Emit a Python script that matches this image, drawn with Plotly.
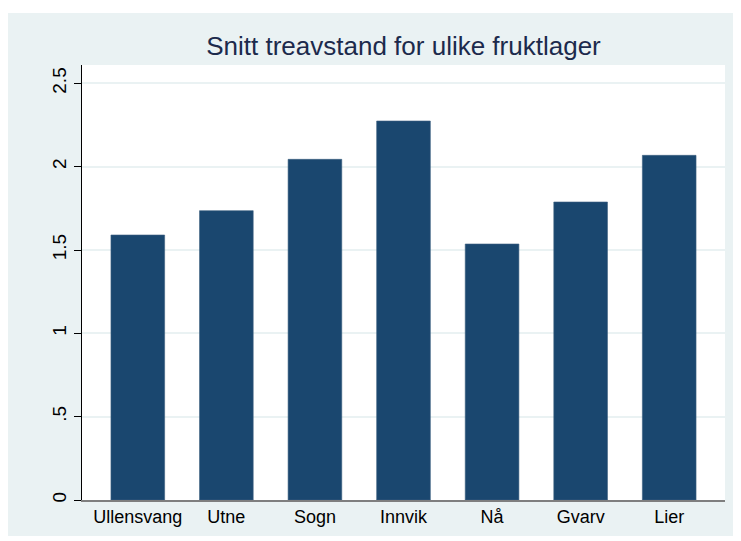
import plotly.graph_objects as go

categories = ["Ullensvang", "Utne", "Sogn", "Innvik", "Nå", "Gvarv", "Lier"]
values = [1.590, 1.736, 2.044, 2.274, 1.536, 1.788, 2.068]
ytick_vals = [0, 0.5, 1, 1.5, 2, 2.5]
ytick_text = ["0", ".5", "1", "1.5", "2", "2.5"]
title_text = "Snitt treavstand for ulike fruktlager"

W, H = 741, 541
L, R, T, B = 74, 24, 57, 49
pw, ph = W - L - R, H - T - B
BG = "#EAF2F3"

def px_to_paper_x(px):
    return (px - L) / pw

def px_to_paper_y(py):
    return (H - B - py) / ph

fig = go.Figure()
fig.add_trace(go.Bar(
    x=categories, y=values, width=0.606,
    marker=dict(color="#1a476f", line=dict(color="#3d5f80", width=0.6)),
))

fig.update_layout(
    width=W, height=H,
    margin=dict(l=L, r=R, t=T, b=B, pad=0),
    paper_bgcolor=BG, plot_bgcolor="white",
    showlegend=False,
    font=dict(family="Liberation Sans, Arial, sans-serif", color="black"),
    title=dict(text=title_text, x=0.5, xref="paper", xanchor="center",
               y=1 - 38 / H, yref="container", yanchor="middle",
               font=dict(size=26, color="#1c2a4c")),
    shapes=[
        dict(type="rect", xref="paper", yref="paper", layer="above",
             x0=px_to_paper_x(-20), x1=px_to_paper_x(760),
             y0=px_to_paper_y(5), y1=px_to_paper_y(-20),
             fillcolor="white", line=dict(width=0)),
        dict(type="rect", xref="paper", yref="paper", layer="above",
             x0=px_to_paper_x(-20), x1=px_to_paper_x(760),
             y0=px_to_paper_y(600), y1=px_to_paper_y(528),
             fillcolor="white", line=dict(width=0)),
    ],
)

fig.update_xaxes(
    type="category", range=[-0.63, 6.63],
    showline=True, linecolor="#7f7f7f", linewidth=1.5,
    ticks="", showgrid=False, zeroline=False,
    tickfont=dict(size=18, color="black"),
    fixedrange=True,
)
fig.update_yaxes(
    range=[0, 2.61],
    tickmode="array", tickvals=ytick_vals, ticktext=ytick_text,
    tickangle=-90, tickfont=dict(size=19, color="black"),
    ticks="outside", ticklen=7, tickcolor="black", tickwidth=1,
    showline=True, linecolor="black", linewidth=1,
    showgrid=True, gridcolor=BG, gridwidth=1.5,
    zeroline=False, fixedrange=True,
)

fig.write_html("out.html")
